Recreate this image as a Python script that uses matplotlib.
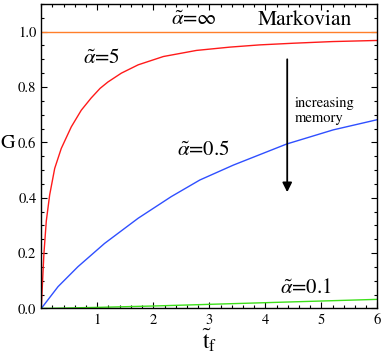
#!/usr/bin/env python3
"""G versus t_f for several memory strengths alpha."""

import matplotlib
matplotlib.use("Agg")
import matplotlib.pyplot as plt
from matplotlib.ticker import MultipleLocator

plt.rcParams["font.family"] = ["STIXGeneral", "DejaVu Serif"]
plt.rcParams["mathtext.fontset"] = "stix"

# values
t_markov = [0.0, 6.0]
g_markov = [1.0, 1.0]

t_a5 = [0.0, 0.025, 0.048, 0.09, 0.15, 0.24, 0.357, 0.536, 0.714, 0.89, 1.05,
        1.19, 1.43, 1.73, 2.18, 2.77, 3.37, 3.90, 4.50, 5.20, 6.0]
g_a5 = [0.0, 0.105, 0.200, 0.316, 0.41, 0.506, 0.578, 0.656, 0.716, 0.760, 0.795,
        0.818, 0.850, 0.880, 0.910, 0.932, 0.944, 0.952, 0.958, 0.964, 0.968]

t_a05 = [0.0, 0.30, 0.655, 1.13, 1.73, 2.32, 2.83, 3.43, 4.38, 5.21, 6.0]
g_a05 = [0.0, 0.079, 0.151, 0.235, 0.326, 0.404, 0.464, 0.518, 0.594, 0.645, 0.682]

t_a01 = [0.0, 1.0, 2.0, 3.0, 4.0, 5.0, 6.0]
g_a01 = [0.0, 0.004, 0.009, 0.015, 0.021, 0.027, 0.033]

x_ticks = [1, 2, 3, 4, 5, 6]
y_ticks = [0.0, 0.2, 0.4, 0.6, 0.8, 1.0]

fig = plt.figure(figsize=(3.82, 3.55), dpi=100)
ax = fig.add_axes([0.108, 0.131, 0.880, 0.858])

ax.plot(t_markov, g_markov, color="#ff7f2a", lw=1.0)
ax.plot(t_a5, g_a5, color="#ff1a1a", lw=1.0)
ax.plot(t_a05, g_a05, color="#2f4fff", lw=1.0)
ax.plot(t_a01, g_a01, color="#3de01a", lw=1.0)

ax.set_xlim(0, 6)
ax.set_ylim(0, 1.10)
ax.set_xticks(x_ticks)
ax.set_yticks(y_ticks)
ax.set_yticklabels([f"{v:.1f}" for v in y_ticks])
ax.xaxis.set_minor_locator(MultipleLocator(0.2))
ax.yaxis.set_minor_locator(MultipleLocator(0.05))
ax.tick_params(which="both", direction="in", top=True, right=True,
               labelsize=10.5, width=0.8)
ax.tick_params(which="major", length=4)
ax.tick_params(which="minor", length=2)
for sp in ax.spines.values():
    sp.set_linewidth(1.0)

ax.set_xlabel(r"$\tilde{\mathrm{t}}_{\mathrm{f}}$", fontsize=17, labelpad=0)
# y label placed in figure coords so it stays inside the canvas
fig.text(8 / 382, 1 - 143 / 355, "G", fontsize=14.5, ha="center", va="center")

ax.text(2.73, 1.042, r"$\tilde{\alpha}$=$\infty$", fontsize=15, ha="center", va="center")
ax.text(4.71, 1.042, "Markovian", fontsize=15.5, ha="center", va="center")
ax.text(1.08, 0.905, r"$\tilde{\alpha}$=5", fontsize=15, ha="center", va="center")
ax.text(2.89, 0.572, r"$\tilde{\alpha}$=0.5", fontsize=15, ha="center", va="center")
ax.text(4.73, 0.074, r"$\tilde{\alpha}$=0.1", fontsize=15, ha="center", va="center")
ax.text(4.53, 0.713, "increasing\nmemory", fontsize=10.5, ha="left", va="center",
        linespacing=1.2)
ax.annotate("", xy=(4.39, 0.41), xytext=(4.39, 0.91),
            arrowprops=dict(arrowstyle="-|>", color="black", lw=1.3,
                            mutation_scale=14))

fig.savefig("out.png", dpi=100)
